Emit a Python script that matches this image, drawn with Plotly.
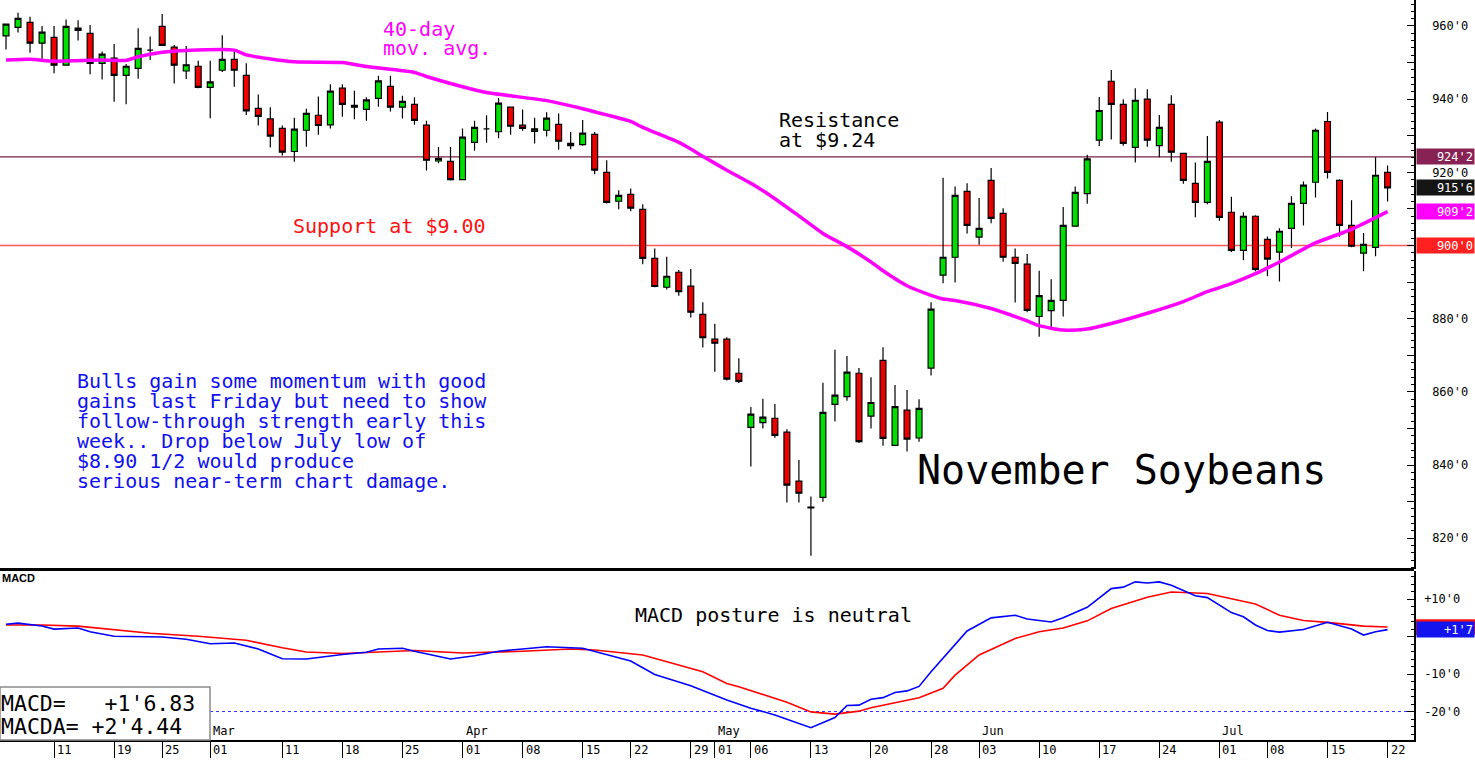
import plotly.graph_objects as go

W, H = 1475, 762
PLOT_W, PLOT_H = 1414, 740

# ---------------- trading sessions (2019) ----------------
feb = [5, 6, 7, 8, 11, 12, 13, 14, 15, 19, 20, 21, 22, 25, 26, 27, 28]
mar = [1, 4, 5, 6, 7, 8, 11, 12, 13, 14, 15, 18, 19, 20, 21, 22, 25, 26, 27, 28, 29]
apr = [1, 2, 3, 4, 5, 8, 9, 10, 11, 12, 15, 16, 17, 18, 22, 23, 24, 25, 26, 29, 30]
may = [1, 2, 3, 6, 7, 8, 9, 10, 13, 14, 15, 16, 17, 20, 21, 22, 23, 24, 28, 29, 30, 31]
jun = [3, 4, 5, 6, 7, 10, 11, 12, 13, 14, 17, 18, 19, 20, 21, 24, 25, 26, 27, 28]
jul = [1, 2, 3, 5, 8, 9, 10, 11, 12, 15, 16, 17, 18, 19, 22]
dates = []
for m, days in [(2, feb), (3, mar), (4, apr), (5, may), (6, jun), (7, jul)]:
    dates += [f"2019-{m:02d}-{d:02d}" for d in days]

# ---------------- OHLC (cents) ----------------
opens = [957.3, 959.6, 961.0, 955.3, 956.9, 949.3, 958.8, 958.0, 949.8, 951.2,
         946.5, 948.4, 953.4, 959.9, 954.2, 947.7, 949.0, 943.2, 947.9, 950.9,
         946.5, 937.5, 934.6, 932.0, 925.7, 931.5, 935.6, 933.0, 943.0, 938.3,
         937.2, 940.2, 943.5, 937.8, 938.6, 932.9, 923.1, 923.0, 918.0, 928.2,
         931.9, 931.1, 937.8, 932.9, 931.2, 931.5, 933.1, 927.3, 927.6, 930.4,
         920.0, 912.1, 914.0, 909.9, 896.5, 888.6, 892.7, 888.9, 881.2, 874.4,
         874.4, 865.1, 850.3, 851.6, 852.8, 849.0, 835.6, 828.5, 831.2, 856.6,
         858.7, 865.1, 853.4, 868.6, 845.4, 855.0, 847.4, 866.5, 891.9, 896.8,
         914.8, 902.3, 917.8, 908.8, 896.8, 894.9, 880.6, 882.2, 885.0, 905.3,
         914.2, 928.8, 944.9, 938.6, 926.8, 940.0, 927.3, 938.6, 925.2, 917.0,
         911.8, 933.7, 909.1, 898.7, 908.0, 901.7, 898.2, 904.7, 911.5, 917.3,
         933.9, 917.8, 905.5, 897.9, 899.5, 920.0]
highs = [960.7, 963.6, 962.5, 960.0, 960.0, 961.8, 961.6, 960.3, 953.0, 955.1,
         949.6, 959.4, 957.1, 963.3, 954.8, 954.5, 950.5, 950.5, 957.5, 953.0,
         949.8, 941.3, 937.8, 932.8, 934.9, 937.4, 940.7, 944.1, 944.1, 942.3,
         940.5, 946.4, 946.4, 940.9, 940.5, 934.1, 926.9, 926.9, 932.0, 934.1,
         935.6, 940.3, 937.8, 937.2, 934.9, 936.4, 936.1, 931.0, 934.3, 931.0,
         923.3, 915.1, 915.6, 911.3, 899.2, 896.9, 893.3, 893.6, 884.5, 878.6,
         874.9, 869.2, 855.9, 858.1, 856.7, 849.8, 841.4, 831.4, 862.5, 871.5,
         869.8, 866.5, 864.0, 872.2, 861.9, 860.5, 858.0, 884.5, 918.5, 916.1,
         917.0, 913.0, 921.2, 910.2, 899.2, 897.7, 893.1, 890.8, 910.5, 916.1,
         924.8, 940.6, 948.0, 940.0, 943.0, 942.7, 935.7, 941.1, 925.2, 922.7,
         929.9, 934.3, 913.3, 909.1, 908.3, 902.5, 904.7, 913.5, 917.5, 932.0,
         936.5, 918.1, 912.4, 903.4, 924.1, 921.9]
lows = [953.6, 958.2, 952.7, 951.0, 947.1, 949.3, 956.0, 946.8, 945.4, 939.3,
        938.6, 945.6, 950.7, 954.7, 944.3, 945.5, 943.0, 934.8, 947.4, 943.4,
        935.7, 932.8, 926.8, 924.6, 922.9, 927.0, 930.3, 932.0, 935.2, 934.5,
        934.1, 937.9, 936.6, 934.7, 933.0, 920.5, 922.5, 917.8, 918.0, 925.9,
        928.1, 929.3, 930.3, 931.4, 927.9, 929.8, 926.2, 926.3, 927.3, 919.5,
        911.5, 909.9, 909.4, 894.9, 888.6, 888.0, 886.3, 880.3, 872.1, 865.5,
        863.1, 862.4, 839.6, 850.0, 847.5, 829.8, 829.8, 815.2, 830.0, 851.9,
        857.6, 846.0, 850.0, 845.3, 845.4, 843.7, 846.4, 864.5, 889.7, 889.9,
        903.3, 900.2, 906.1, 895.6, 884.4, 881.8, 875.1, 877.5, 880.6, 905.3,
        911.4, 927.2, 929.0, 927.3, 922.7, 927.0, 924.1, 922.9, 916.9, 907.7,
        911.3, 906.8, 898.2, 896.0, 893.0, 891.6, 890.2, 899.3, 905.5, 913.1,
        918.3, 902.4, 899.5, 893.0, 897.1, 912.0]
closes = [960.5, 962.1, 955.3, 958.3, 949.3, 959.9, 959.4, 949.8, 952.3, 946.5,
          949.0, 953.9, 953.4, 954.7, 949.3, 949.4, 943.2, 944.7, 950.9, 947.9,
          936.8, 935.3, 929.9, 925.5, 931.8, 936.1, 932.8, 942.2, 938.6, 937.8,
          939.8, 945.0, 937.8, 939.4, 934.2, 923.3, 923.8, 918.0, 929.6, 932.3,
          931.9, 938.9, 932.6, 932.0, 931.9, 934.8, 928.5, 927.9, 930.7, 920.6,
          911.8, 913.7, 910.2, 896.5, 888.8, 891.6, 887.4, 881.8, 874.8, 873.3,
          863.5, 862.9, 853.9, 853.1, 848.1, 834.5, 832.3, 828.3, 854.4, 859.1,
          865.4, 846.4, 857.1, 847.3, 856.0, 847.1, 855.5, 882.6, 896.8, 913.7,
          905.5, 904.7, 907.4, 896.8, 895.1, 882.3, 886.3, 885.0, 905.5, 914.5,
          923.7, 936.9, 938.6, 927.9, 939.7, 928.8, 932.3, 925.5, 917.8, 911.8,
          923.0, 907.7, 898.7, 908.0, 893.5, 896.3, 903.9, 911.5, 916.5, 931.5,
          920.0, 905.5, 899.8, 900.3, 919.2, 915.75]

# ---------------- 40-day moving average ----------------
ma_days = [0, 2, 4, 8, 10, 11, 13, 15, 19, 20, 24, 28, 30, 34, 35, 38, 40, 45, 48,
           50, 52, 53, 56, 57, 58, 60, 62, 64, 66, 68, 70, 72, 73, 75, 77, 78, 79,
           82, 85, 86, 88, 90, 92, 95, 98, 100, 102, 104, 106, 109, 112, 113, 115]
ma_vals = [950.7, 950.9, 950.4, 950.7, 950.6, 951.6, 952.8, 953.3, 953.4, 952.1,
           950.2, 950.0, 948.9, 947.3, 946.2, 943.4, 941.8, 939.6, 937.4,
           935.7, 933.9, 932.3, 928.2, 926.4, 924.4, 920.6, 917.0, 912.8, 908.1,
           903.3, 899.7, 895.5, 893.1, 889.0, 886.4, 885.4, 885.0,
           882.8, 879.4, 878.1, 876.9, 877.2, 878.7, 881.5, 884.7, 887.4, 889.6,
           892.3, 895.5, 900.7, 904.4, 906.0, 909.25]

# ---------------- MACD (blue) and MACDA signal (red) ----------------
macd_days = [0, 1, 3, 4, 6, 7, 9, 13, 15, 17, 19, 21, 23, 25, 28, 30, 31, 33, 34, 37,
             39, 41, 43, 45, 48, 50, 52, 54, 57, 60, 62, 64, 67, 69, 70, 71, 72, 73,
             74, 75, 76, 77, 79, 80, 82, 84, 85, 87, 88, 90, 92, 93, 94, 95, 96, 97,
             99, 100, 102, 103, 104, 105, 106, 108, 110, 112, 113, 114, 115]
macd_vals = [3.3, 3.6, 2.8, 2.0, 2.3, 1.3, 0.1, -0.1, -0.7, -1.9, -1.7, -3.3, -5.9,
             -6.0, -4.8, -4.2, -3.3, -3.1, -3.9, -6.0, -5.1, -3.9, -3.3, -2.7, -3.1,
             -4.9, -6.5, -10.1, -13.1, -16.9, -19.1, -20.9, -24.3, -21.6, -18.4,
             -18.3, -16.7, -16.3, -14.9, -14.5, -13.3, -9.4, -2.3, 1.5, 5.0, 5.7,
             4.7, 3.9, 5.0, 7.8, 12.8, 13.2, 14.6, 14.3, 14.6, 13.7, 10.9, 10.4, 6.4,
             5.3, 3.1, 1.6, 1.2, 1.9, 3.8, 2.0, 0.4, 1.3, 1.85]
sig_days = [0, 3, 6, 9, 12, 16, 20, 23, 25, 28, 31, 34, 38, 43, 47, 49, 53, 55, 58,
            60, 61, 65, 67, 69, 71, 72, 74, 76, 78, 79, 81, 84, 86, 88, 90, 92, 95,
            97, 100, 102, 104, 106, 108, 110, 113, 115]
sig_vals = [3.1, 3.1, 2.8, 1.9, 0.9, 0.1, -1.0, -3.0, -4.1, -4.5, -4.0, -3.7, -4.4,
            -3.9, -3.3, -3.6, -4.9, -6.7, -9.4, -12.5, -13.4, -17.5, -20.1, -20.7,
            -19.9, -19.0, -17.6, -16.3, -13.8, -10.3, -4.9, -0.5, 1.3, 2.3, 4.2,
            7.5, 10.5, 11.9, 11.5, 10.2, 8.7, 5.7, 4.3, 3.8, 2.8, 2.55]

# ---------------- axis labels ----------------
tick_dates = ["2019-02-11", "2019-02-19", "2019-02-25", "2019-03-01", "2019-03-11",
              "2019-03-18", "2019-03-25", "2019-04-01", "2019-04-08", "2019-04-15",
              "2019-04-22", "2019-04-29", "2019-05-01", "2019-05-06", "2019-05-13",
              "2019-05-20", "2019-05-28", "2019-06-03", "2019-06-10", "2019-06-17",
              "2019-06-24", "2019-07-01", "2019-07-08", "2019-07-15", "2019-07-22"]
tick_days = ["11", "19", "25", "01", "11", "18", "25", "01", "08", "15", "22", "29",
             "01", "06", "13", "20", "28", "03", "10", "17", "24", "01", "08", "15", "22"]
month_dates = ["2019-03-01", "2019-04-01", "2019-05-01", "2019-06-03", "2019-07-01"]
month_names = ["Mar", "Apr", "May", "Jun", "Jul"]
price_ticks = [820, 830, 840, 850, 860, 870, 880, 890, 900, 910, 920, 930, 940, 950, 960]
price_text = ["820'0", "", "840'0", "", "860'0", "", "880'0", "", "", "", "920'0",
              "", "940'0", "", "960'0"]
macd_ticks = [-20, -10, 0, 10]
macd_text = ["-20'0", "-10'0", "", "+10'0"]

# last values shown as tags on the right axis
resistance = 924.25
support = 900.0
last_close = 915.75
last_ma = 909.25
last_macd = 1.85
last_macda = 2.55

MONO = "DejaVu Sans Mono"

fig = go.Figure()
fig.add_trace(go.Candlestick(
    x=dates, open=opens, high=highs, low=lows, close=closes,
    increasing=dict(line=dict(color="black", width=1.2), fillcolor="#00E000"),
    decreasing=dict(line=dict(color="black", width=1.2), fillcolor="#EE0000"),
    whiskerwidth=0, xaxis="x", yaxis="y", showlegend=False, hoverinfo="skip"))
fig.add_trace(go.Scatter(
    x=[dates[k] for k in ma_days], y=ma_vals, mode="lines", yaxis="y",
    line=dict(color="#FF00FF", width=3.5, shape="spline", smoothing=0.6),
    showlegend=False, hoverinfo="skip"))
fig.add_trace(go.Scatter(
    x=[dates[k] for k in sig_days], y=sig_vals, mode="lines", yaxis="y2",
    line=dict(color="#FF0000", width=1.6), showlegend=False, hoverinfo="skip"))
fig.add_trace(go.Scatter(
    x=[dates[k] for k in macd_days], y=macd_vals, mode="lines", yaxis="y2",
    line=dict(color="#0000FF", width=1.6), showlegend=False, hoverinfo="skip"))

price_bot = (PLOT_H - 569) / PLOT_H
macd_top = (PLOT_H - 571) / PLOT_H

axis_common = dict(showgrid=False, zeroline=False, fixedrange=True)
fig.update_layout(
    width=W, height=H,
    margin=dict(l=0, r=W - PLOT_W, t=0, b=H - PLOT_H),
    paper_bgcolor="white", plot_bgcolor="white", showlegend=False,
    xaxis=dict(type="category", range=[-0.5, 117.2], anchor="y2",
               tickmode="array", tickvals=tick_dates, ticks="outside", ticklen=16,
               tickcolor="black", tickwidth=1, showticklabels=False,
               showline=True, linecolor="black", linewidth=1.5,
               rangeslider=dict(visible=False), **axis_common),
    yaxis=dict(domain=[price_bot, 1], range=[811.6, 967.1], side="right", anchor="x",
               tickmode="array", tickvals=price_ticks, ticktext=price_text,
               ticks="inside", ticklen=7, tickcolor="black", tickwidth=1,
               showline=True, linecolor="black", linewidth=1.5,
               tickfont=dict(family=MONO, size=12, color="black"),
               ticklabelstandoff=14,
               minor=dict(dtick=2, tick0=0, ticks="inside", ticklen=3,
                          tickcolor="black", tickwidth=1),
               **axis_common),
    yaxis2=dict(domain=[0, macd_top], range=[-27.6, 17.5], side="right", anchor="x",
                tickmode="array", tickvals=macd_ticks, ticktext=macd_text,
                ticks="inside", ticklen=7, tickcolor="black", tickwidth=1,
                showline=True, linecolor="black", linewidth=1.5,
                tickfont=dict(family=MONO, size=12, color="black"),
                ticklabelstandoff=6,
                minor=dict(dtick=2, tick0=0, ticks="inside", ticklen=3,
                           tickcolor="black", tickwidth=1),
                **axis_common),
    yaxis3=dict(overlaying="y", side="left", anchor="x", range=[811.6, 967.1],
                tickmode="linear", dtick=10, tick0=0, ticks="inside", ticklen=5,
                tickcolor="black", showticklabels=False, showline=False,
                minor=dict(dtick=2, tick0=0, ticks="inside", ticklen=2,
                           tickcolor="black"),
                **axis_common),
    yaxis4=dict(overlaying="y2", side="left", anchor="x", range=[-27.6, 17.5],
                tickmode="linear", dtick=10, tick0=0, ticks="inside", ticklen=5,
                tickcolor="black", showticklabels=False, showline=False,
                minor=dict(dtick=2, tick0=0, ticks="inside", ticklen=2,
                           tickcolor="black"),
                **axis_common),
)

shapes = [
    dict(type="line", xref="paper", yref="y", x0=0, x1=1, y0=resistance, y1=resistance,
         line=dict(color="#7A1E44", width=1.2), layer="below"),
    dict(type="line", xref="paper", yref="y", x0=0, x1=1, y0=support, y1=support,
         line=dict(color="#FF5A5A", width=1.6), layer="below"),
    dict(type="line", xref="paper", yref="y2", x0=0, x1=1, y0=-20, y1=-20,
         line=dict(color="#3030FF", width=1, dash="dot"), layer="below"),
    dict(type="line", xref="paper", yref="paper", x0=0, x1=1,
         y0=(PLOT_H - 569.5) / PLOT_H, y1=(PLOT_H - 569.5) / PLOT_H,
         line=dict(color="black", width=3)),
    dict(type="rect", xref="paper", yref="paper", x0=0, x1=210 / PLOT_W,
         y0=0, y1=(PLOT_H - 687) / PLOT_H,
         fillcolor="white", line=dict(color="#8A8A8A", width=1.5)),
    # MACDA tag (mostly hidden behind the MACD tag)
    dict(type="rect", xref="paper", yref="y2", x0=1 + 2 / PLOT_W, x1=W / PLOT_W,
         y0=last_macda - 2.1, y1=last_macda + 2.1, fillcolor="#FF1010",
         line=dict(width=0)),
]
fig.update_layout(shapes=shapes)


def txt(text, x, y, size, color, family=MONO, xanchor="left", **kw):
    return dict(text=text, xref="paper", yref="paper", x=x / PLOT_W,
                y=(PLOT_H - y) / PLOT_H, xanchor=xanchor, yanchor="middle",
                showarrow=False, font=dict(family=family, size=size, color=color),
                borderpad=0, borderwidth=0, **kw)


ann = []
ann.append(txt("40-day", 383, 29, 20, "#FF00FF"))
ann.append(txt("mov. avg.", 383, 48, 20, "#FF00FF"))
ann.append(txt("Resistance", 779, 120, 20, "black"))
ann.append(txt("at $9.24", 779, 140, 20, "black"))
ann.append(txt("Support at $9.00", 293, 226, 20, "#FF1010"))
body = ["Bulls gain some momentum with good",
        "gains last Friday but need to show",
        "follow-through strength early this",
        "week.. Drop below July low of",
        "$8.90 1/2 would produce",
        "serious near-term chart damage."]
for i, line in enumerate(body):
    ann.append(txt(line, 77, 381 + 20 * i, 20, "#1010F0"))
ann.append(txt("November Soybeans", 917, 470, 40, "black"))
ann.append(txt("MACD posture is neutral", 635, 615, 20, "black"))
ann.append(txt("<b>MACD</b>", 2, 578, 11, "black", family="Liberation Sans"))
ann.append(txt("MACD=\u00a0\u00a0\u00a0+1'6.83", 1, 703, 21.5, "black"))
ann.append(txt("MACDA=\u00a0+2'4.44", 1, 726, 21.5, "black"))

for d, lab in zip(tick_dates, tick_days):
    ann.append(dict(text=lab, xref="x", yref="paper", x=d, y=0, xanchor="left",
                    yanchor="top", xshift=1, yshift=-1, showarrow=False,
                    font=dict(family=MONO, size=12, color="black")))
for d, lab in zip(month_dates, month_names):
    ann.append(dict(text=lab, xref="x", yref="paper", x=d, y=0, xanchor="left",
                    yanchor="bottom", xshift=1, yshift=0, showarrow=False,
                    font=dict(family=MONO, size=12, color="black")))

tags = [("924'2", resistance, "#882255", "y"), ("915'6", last_close, "#151515", "y"),
        ("909'2", last_ma, "#FF00FF", "y"), ("900'0", support, "#FF2020", "y"),
        ("+1'7", last_macd, "#1414EE", "y2")]
for label, val, col, yr in tags:
    ann.append(dict(text=label, xref="paper", yref=yr, x=1, y=val, xanchor="left",
                    yanchor="middle", xshift=2, showarrow=False, width=55, height=13,
                    align="right", bgcolor=col, borderpad=1,
                    font=dict(family=MONO, size=12, color="white")))
fig.update_layout(annotations=ann)

fig.write_html("out.html")
